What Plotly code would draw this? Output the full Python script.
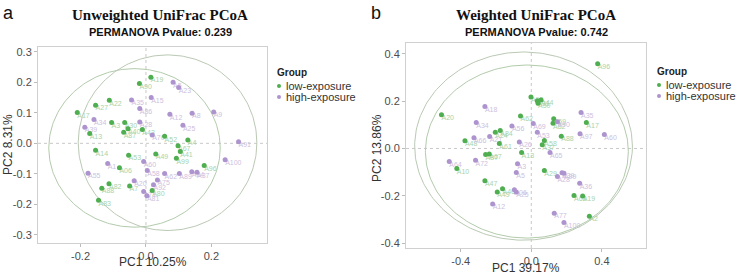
import numpy as np
import plotly.graph_objects as go

# ---------------- data: panel a (Unweighted UniFrac) ----------------
a_low_x = [0.015, -0.020, -0.112, -0.154, -0.210, -0.105, -0.065, -0.055, -0.068, -0.011, -0.172, 0.057, 0.128,
           0.098, 0.105, -0.154, -0.053, 0.030, 0.093, 0.178, -0.081, -0.113, -0.135, -0.050, 0.019, -0.145]
a_low_y = [0.217, 0.196, 0.141, 0.125, 0.101, 0.068, 0.068, 0.048, 0.036, 0.045, 0.032, 0.023, 0.011,
           -0.008, -0.027, -0.023, -0.039, -0.035, -0.049, -0.073, -0.080, -0.133, -0.147, -0.140, -0.155, -0.187]
a_low_lab = ["A19", "A90", "A22", "A27", "A17", "A3", "A30", "A40", "A87", "A43", "A13", "A52", "A4",
             "A67", "A41", "A14", "A53", "A49", "A99", "A96", "A06", "A82", "A88", "A7", "A80", "A83"]

a_high_x = [0.083, 0.100, 0.016, -0.044, -0.019, 0.073, 0.141, 0.207, -0.159, 0.113, -0.187, -0.019, 0.019, 0.283,
            0.242, -0.007, -0.117, -0.177, 0.004, 0.057, 0.102, 0.140, 0.156, 0.035, 0.023, -0.036, -0.007, 0.003]
a_high_y = [0.200, 0.183, 0.150, 0.142, 0.114, 0.095, 0.099, 0.103, 0.078, 0.059, 0.053, 0.070, 0.027, 0.005,
            -0.054, -0.060, -0.066, -0.098, -0.089, -0.099, -0.099, -0.093, -0.095, -0.120, -0.136, -0.123, -0.158, -0.172]
a_high_lab = ["A5", "A23", "A15", "A35", "A86", "A12", "A8", "A9", "A34", "A25", "A39", "A28", "A70", "A91",
              "A100", "A60", "A1", "A55", "A58", "A62", "A89", "A84", "A37", "A75", "A92", "A20", "A71", "A81"]

# 95% ellipses: centre x, centre y, semi-axis x, semi-axis y  (low, high)
a_ell_cx = [-0.035, 0.066]
a_ell_cy = [-0.015, 0.002]
a_ell_rx = [0.262, 0.273]
a_ell_ry = [0.260, 0.288]

# ---------------- data: panel b (Weighted UniFrac) ----------------
b_low_x = [0.376, -0.002, 0.034, 0.055, 0.038, -0.509, -0.061, 0.127, 0.123, 0.312, -0.176, -0.204, -0.376, -0.181,
           0.170, 0.074, 0.062, -0.055, -0.259, -0.238, -0.422, 0.074, -0.263, -0.163, -0.193, 0.242, 0.291, 0.329]
b_low_y = [0.357, 0.217, 0.201, 0.205, 0.191, 0.142, 0.137, 0.125, 0.106, 0.110, 0.076, 0.068, 0.033, 0.021,
           0.052, 0.034, 0.016, -0.017, -0.025, -0.023, -0.085, -0.093, -0.136, -0.170, -0.184, -0.198, -0.201, -0.286]
b_low_lab = ["A96", "A98", "A31", "A44", "A50", "A20", "A62", "A59", "A82", "A17", "A84", "A24", "A48", "A61",
             "A88", "A58", "A37", "A13", "A87", "A67", "A10", "A29", "A47", "A46", "A49", "A63", "A19", "A2"]

b_high_x = [-0.263, -0.312, -0.110, 0.011, 0.148, 0.282, 0.414, 0.276, 0.034, -0.325, -0.236, -0.068, 0.106,
            -0.465, -0.316, -0.078, -0.085, 0.148, 0.174, 0.185, 0.274, -0.096, -0.085, -0.219, 0.130, 0.185]
b_high_y = [0.177, 0.110, 0.095, 0.105, 0.113, 0.152, 0.059, 0.062, 0.068, 0.045, 0.050, 0.027, -0.017,
            -0.055, -0.050, -0.065, -0.101, -0.118, -0.103, -0.105, -0.147, -0.174, -0.184, -0.234, -0.273, -0.312]
b_high_lab = ["A18", "A34", "A56", "A69", "A90", "A35", "A60", "A97", "A53", "A66", "A21", "A26", "A65",
              "A64", "A72", "A3", "A5", "A28", "A39", "A99", "A36", "A06", "A25", "A12", "A77", "A100"]

b_ell_cx = [-0.025, -0.044]
b_ell_cy = [-0.013, 0.010]
b_ell_rx = [0.575, 0.617]
b_ell_ry = [0.365, 0.397]

groups = ["low-exposure", "high-exposure"]
titles = ["Unweighted UniFrac PCoA", "Weighted UniFrac PCoA"]
subtitles = ["PERMANOVA Pvalue: 0.239", "PERMANOVA Pvalue: 0.742"]
x_titles = ["PC1 10.25%", "PC1 39.17%"]
y_titles = ["PC2 8.31%", "PC2 13.86%"]
a_ticks = [-0.2, 0.0, 0.2]
a_yticks = [-0.3, -0.2, -0.1, 0.0, 0.1, 0.2, 0.3]
b_ticks = [-0.4, 0.0, 0.4]
b_yticks = [-0.4, -0.2, 0.0, 0.2, 0.4]

GREEN = "#4fae4f"
PURPLE = "#ae94cf"
GREEN_T = "#a9d3a9"
PURPLE_T = "#cdbfe0"
ELL = ["#b2cbab", "#bac9b4"]

W, H = 738, 276


def px(xp):
    return xp / W


def py(yp):
    return 1 - yp / H


fig = go.Figure()

panels = [
    dict(xa="x", ya="y", data=[(a_low_x, a_low_y, a_low_lab), (a_high_x, a_high_y, a_high_lab)],
         ell=(a_ell_cx, a_ell_cy, a_ell_rx, a_ell_ry)),
    dict(xa="x2", ya="y2", data=[(b_low_x, b_low_y, b_low_lab), (b_high_x, b_high_y, b_high_lab)],
         ell=(b_ell_cx, b_ell_cy, b_ell_rx, b_ell_ry)),
]

t = np.linspace(0, 2 * np.pi, 240)
for p in panels:
    cx, cy, rx, ry = p["ell"]
    for gi in range(2):
        fig.add_trace(go.Scatter(x=cx[gi] + rx[gi] * np.cos(t), y=cy[gi] + ry[gi] * np.sin(t), mode="lines",
                                 xaxis=p["xa"], yaxis=p["ya"], line=dict(color=ELL[gi], width=1),
                                 showlegend=False, hoverinfo="skip"))
    for gi, (xs, ys, labs) in enumerate(p["data"]):
        fig.add_trace(go.Scatter(x=xs, y=ys, mode="text", text=labs, textposition="bottom right",
                                 textfont=dict(size=7, color=[GREEN_T, PURPLE_T][gi], family="Liberation Sans"),
                                 xaxis=p["xa"], yaxis=p["ya"], showlegend=False, hoverinfo="skip"))
    for gi, (xs, ys, labs) in enumerate(p["data"]):
        fig.add_trace(go.Scatter(x=xs, y=ys, mode="markers", name=groups[gi],
                                 marker=dict(size=5, color=[GREEN, PURPLE][gi]),
                                 xaxis=p["xa"], yaxis=p["ya"], showlegend=False))

axis_common = dict(showgrid=False, zeroline=False, showline=True, linecolor="#d0d0d0", linewidth=1,
                   mirror=True, ticks="outside", ticklen=3, tickcolor="#bbbbbb", automargin=False,
                   tickfont=dict(size=11, color="#4d4d4d", family="Liberation Sans"))

fig.update_layout(
    width=W, height=H, margin=dict(l=0, r=0, t=0, b=0, pad=0, autoexpand=False),
    paper_bgcolor="white", plot_bgcolor="white",
    showlegend=False,
    xaxis=dict(domain=[px(38), px(267)], range=[-0.33, 0.37], tickvals=a_ticks, ticktext=["-0.2", "0.0", "0.2"],
               anchor="y", **axis_common),
    yaxis=dict(domain=[py(243), py(47)], range=[-0.327, 0.316], tickvals=a_yticks,
               ticktext=["-0.3", "-0.2", "-0.1", "0.0", "0.1", "0.2", "0.3"], anchor="x", **axis_common),
    xaxis2=dict(domain=[px(406), px(646)], range=[-0.71, 0.65], tickvals=b_ticks, ticktext=["-0.4", "0.0", "0.4"],
                anchor="y2", **axis_common),
    yaxis2=dict(domain=[py(248), py(43)], range=[-0.42, 0.445], tickvals=b_yticks,
                ticktext=["-0.4", "-0.2", "0.0", "0.2", "0.4"], anchor="x2", **axis_common),
)

# dashed zero lines
for xa, ya in [("x", "y"), ("x2", "y2")]:
    fig.add_shape(type="line", xref=xa, yref=f"{ya} domain", x0=0, x1=0, y0=0, y1=1,
                  line=dict(color="#c8c8c8", width=1, dash="dot"), layer="below")
    fig.add_shape(type="line", xref=f"{xa} domain", yref=ya, x0=0, x1=1, y0=0, y1=0,
                  line=dict(color="#c8c8c8", width=1, dash="dot"), layer="below")

ann = []
centers = [160, 536]
for i in range(2):
    ann.append(dict(text=f"<b>{titles[i]}</b>", x=px(centers[i]), y=py(15), xref="paper", yref="paper",
                    showarrow=False, xanchor="center", yanchor="middle",
                    font=dict(size=15, family="Liberation Serif", color="#111")))
    ann.append(dict(text=f"<b>{subtitles[i]}</b>", x=px(centers[i]), y=py(32), xref="paper", yref="paper",
                    showarrow=False, xanchor="center", yanchor="middle",
                    font=dict(size=11, family="Liberation Sans", color="#111")))

# axis titles
for txt, x, y, ang in [(x_titles[0], (38 + 267) / 2, 262, 0), (x_titles[1], (406 + 646) / 2, 268, 0),
                       (y_titles[0], 8, 145, -90), (y_titles[1], 377, 148, -90)]:
    ann.append(dict(text=txt, x=px(x), y=py(y), xref="paper", yref="paper", textangle=ang,
                    xanchor="center", yanchor="middle", showarrow=False,
                    font=dict(size=12, family="Liberation Sans", color="#333")))

# panel letters
for txt, x, y in [("a", 8, 13), ("b", 376, 13)]:
    ann.append(dict(text=txt, x=px(x), y=py(y), xref="paper", yref="paper", showarrow=False,
                    xanchor="center", yanchor="middle",
                    font=dict(size=18, family="Liberation Sans", color="#111")))

# legends (drawn manually)
legend_pos = [(275, 72), (655, 71)]
dot_colors = [GREEN, PURPLE]
for lx, ly in legend_pos:
    ann.append(dict(text="<b>Group</b>", x=px(lx), y=py(ly), xref="paper", yref="paper", showarrow=False,
                    xanchor="left", yanchor="middle", font=dict(size=10, family="Liberation Sans", color="#222")))
    for gi in range(2):
        yy = ly + 14 + gi * 11
        fig.add_shape(type="circle", xref="paper", yref="paper",
                      x0=px(lx + 2), x1=px(lx + 6), y0=py(yy + 2), y1=py(yy - 2),
                      fillcolor=dot_colors[gi], line=dict(width=0))
        ann.append(dict(text=groups[gi], x=px(lx + 9), y=py(yy), xref="paper", yref="paper", showarrow=False,
                        xanchor="left", yanchor="middle",
                        font=dict(size=11, family="Liberation Sans", color="#333")))

fig.update_layout(annotations=ann)

fig.write_html("out.html", config={"displayModeBar": False},
               post_script="document.body.style.margin='0';document.body.style.padding='0';"
                           "document.documentElement.style.margin='0';")
